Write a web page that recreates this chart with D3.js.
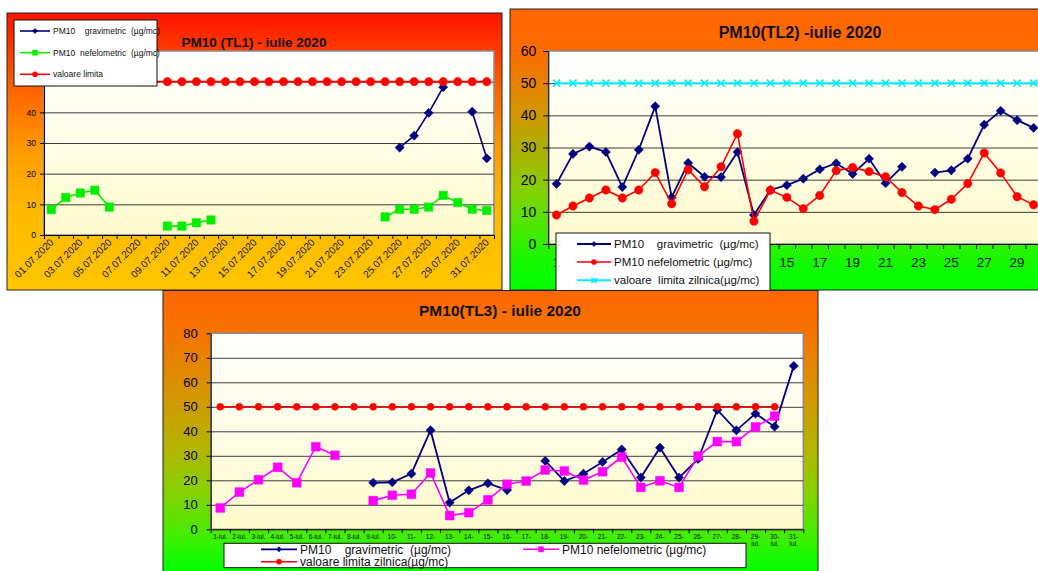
<!DOCTYPE html>
<html>
<head>
<meta charset="utf-8">
<script src="https://cdn.jsdelivr.net/npm/d3@7"></script>
<style>
body { margin: 0; background: #fff; overflow: hidden; font-family: Arial, "Liberation Sans", sans-serif; }
svg { display: block; }
</style>
</head>
<body>
<svg id="chart" width="1038" height="571"></svg>
<script>
var days = d3.range(1, 32);

// TL1 - iulie 2020
var tl1Grav = [null, null, null, null, null, null, null, null, null, null, null, null,
  null, null, null, null, null, null, null, null, null, null, null, null,
  28.5, 32.4, 39.8, 48.2, null, 40.2, 25.0];
var tl1Nef = [8.3, 12.2, 13.7, 14.6, 9.1, null, null, null, 2.9, 2.9, 4.0, 4.9,
  null, null, null, null, null, null, null, null, null, null, null,
  5.9, 8.4, 8.4, 9.1, 12.9, 10.6, 8.4, 8.0];
var tl1Limit = days.map(function() { return 50; });

// TL2 - iulie 2020
var tl2Grav = [18.7, 28.0, 30.3, 28.6, 17.7, 29.3, 42.8, 14.5, 25.2, 20.9, 20.8, 28.6, 9.0, 16.8,
  18.3, 20.3, 23.2, 25.1, 21.8, 26.5, 18.9, 24.0, null, 22.2, 22.9, 26.5, 37.1, 41.4, 38.5, 36.1, null];
var tl2Nef = [9.0, 11.8, 14.3, 16.8, 14.3, 16.8, 22.2, 12.5, 23.1, 17.8, 24.0, 34.3, 7.1, 16.7,
  14.5, 11.0, 15.1, 22.8, 23.8, 22.5, 20.9, 16.0, 11.8, 10.7, 13.9, 18.8, 28.3, 22.1, 14.7, 12.2, null];
var tl2Limit = days.map(function() { return 50; });

// TL3 - iulie 2020
var tl3Grav = [null, null, null, null, null, null, null, null, 19.0, 19.2, 22.7, 40.4, 10.9, 15.9,
  18.8, 16.0, null, 27.9, 19.7, 22.7, 27.5, 32.6, 21.1, 33.3, 21.1, 28.7, 48.7, 40.4, 47.2, 41.9, 66.7];
var tl3Nef = [8.7, 15.2, 20.2, 25.3, 19.0, 33.7, 30.2, null, 11.7, 13.9, 14.3, 23.0, 5.6, 6.8,
  12.0, 18.4, 19.7, 24.2, 23.8, 20.1, 23.5, 29.5, 17.1, 19.8, 17.1, 29.9, 35.8, 35.8, 41.8, 46.2, null];
var tl3Limit = days.map(function(d) { return d < 31 ? 50 : null; });

var tl1Ticks = [0, 10, 20, 30, 40, 50, 60];
var tl2Ticks = [0, 10, 20, 30, 40, 50, 60];
var tl3Ticks = [0, 10, 20, 30, 40, 50, 60, 70, 80];

var svg = d3.select("#chart");
var defs = svg.append("defs");

function gradient(id, stops) {
  var g = defs.append("linearGradient").attr("id", id)
    .attr("x1", 0).attr("y1", 0).attr("x2", 0).attr("y2", 1);
  stops.forEach(function(s) {
    g.append("stop").attr("offset", s[0]).attr("stop-color", s[1]);
  });
}

gradient("bg1", [[0, "#ff1400"], [0.28, "#ff6400"], [0.5, "#ff9c00"], [0.7, "#ffb800"], [1, "#ffc600"]]);
gradient("bg2", [[0, "#ff6600"], [0.14, "#ff6a00"], [0.36, "#d49400"], [0.52, "#a8b400"],
  [0.66, "#80d200"], [0.8, "#40ec00"], [0.9, "#14fa00"], [1, "#00ff00"]]);
gradient("bg3", [[0, "#ff6600"], [0.15, "#f57400"], [0.38, "#d49800"], [0.55, "#b4b400"],
  [0.7, "#88d000"], [0.85, "#48ec00"], [0.95, "#10fc00"], [1, "#00ff00"]]);
gradient("plotbg", [[0, "#ffffff"], [1, "#fffbcc"]]);

function markerPath(type, s) {
  if (type == "diamond") return "M0," + (-s) + "L" + s + ",0L0," + s + "L" + (-s) + ",0Z";
  if (type == "square") return "M" + (-s) + "," + (-s) + "h" + (2 * s) + "v" + (2 * s) + "h" + (-2 * s) + "Z";
  if (type == "circle") return d3.symbol().type(d3.symbolCircle).size(Math.PI * s * s)();
  return "M" + (-s) + "," + (-s) + "L" + s + "," + s + "M" + (-s) + "," + s + "L" + s + "," + (-s);
}

function drawMarker(g, type, s, color) {
  return g.append("path")
    .attr("d", markerPath(type, s))
    .attr("fill", type == "x" ? "none" : color)
    .attr("stroke", color)
    .attr("stroke-width", type == "x" ? 1.6 : 0.5);
}

function panel(cfg) {
  var g = svg.append("g");
  g.append("rect")
    .attr("x", cfg.box[0]).attr("y", cfg.box[1])
    .attr("width", cfg.box[2]).attr("height", cfg.box[3])
    .attr("fill", "url(#" + cfg.bg + ")")
    .attr("stroke", "#222").attr("stroke-width", 1);

  var p = cfg.plot;
  var x = d3.scaleBand().domain(days).range([p.l, p.r]).paddingInner(0).paddingOuter(0);
  var xb = d3.scaleLinear().domain([0, 31]).range([p.l, p.r]);
  var y = d3.scaleLinear().domain([0, cfg.yMax]).range([p.b, p.t]);

  g.append("rect")
    .attr("x", p.l).attr("y", p.t).attr("width", p.r - p.l).attr("height", p.b - p.t)
    .attr("fill", "url(#plotbg)").attr("stroke", "#8a8a8a").attr("stroke-width", 1.5);

  // gridlines
  g.append("g")
    .attr("transform", "translate(" + p.l + ",0)")
    .call(d3.axisLeft(y).tickValues(cfg.ticks.slice(1, -1)).tickSize(-(p.r - p.l)).tickFormat(""))
    .call(function(a) { a.select(".domain").remove(); })
    .selectAll("line").attr("stroke", "#3c3c3c").attr("stroke-width", 1);

  // y axis (labels hidden by the legend are left out)
  var ya = g.append("g")
    .attr("transform", "translate(" + p.l + ",0)")
    .call(d3.axisLeft(y).tickValues(cfg.ticks).tickSize(cfg.yTick).tickPadding(cfg.yPad).tickSizeOuter(0));
  ya.select(".domain").attr("stroke", "#000");
  ya.selectAll("line").attr("stroke", "#000");
  ya.selectAll("text").attr("font-size", cfg.yFont).attr("fill", "#000")
    .attr("font-family", "Arial, 'Liberation Sans', sans-serif")
    .filter(function(v) { return cfg.yHidden && v >= cfg.yHidden; }).remove();

  // x axis with ticks on category boundaries
  var xa = g.append("g")
    .attr("transform", "translate(0," + p.b + ")")
    .call(d3.axisBottom(xb).tickValues(d3.range(0, 32)).tickSize(cfg.xTick).tickSizeOuter(0).tickFormat(""));
  xa.select(".domain").attr("stroke", "#000");
  xa.selectAll("line").attr("stroke", "#000");

  cfg.labels(g, x, p);

  var half = x.bandwidth() / 2;
  cfg.series.forEach(function(s) {
    var pts = days.map(function(d, i) { return { day: d, v: s.values[i] }; });
    var line = d3.line()
      .defined(function(q) { return q.v != null; })
      .x(function(q) { return x(q.day) + half; })
      .y(function(q) { return y(q.v); });
    g.append("path").datum(pts)
      .attr("d", line).attr("fill", "none")
      .attr("stroke", s.color).attr("stroke-width", s.width);
    g.append("g").selectAll("path")
      .data(pts.filter(function(q) { return q.v != null; }))
      .enter().append("path")
      .attr("transform", function(q) { return "translate(" + (x(q.day) + half) + "," + y(q.v) + ")"; })
      .attr("d", markerPath(s.marker, s.size))
      .attr("fill", s.marker == "x" ? "none" : s.color)
      .attr("stroke", s.color)
      .attr("stroke-width", s.marker == "x" ? 1.6 : 0.5);
  });

  g.append("text")
    .attr("x", cfg.title[0]).attr("y", cfg.title[1])
    .attr("text-anchor", "middle").attr("font-weight", "bold")
    .attr("font-size", cfg.title[2]).attr("fill", "#111")
    .text(cfg.title[3]);

  // legend
  var L = cfg.legend;
  var lg = g.append("g");
  lg.append("rect")
    .attr("x", L.box[0]).attr("y", L.box[1]).attr("width", L.box[2]).attr("height", L.box[3])
    .attr("fill", "#fff").attr("stroke", "#111").attr("stroke-width", 1);
  L.items.forEach(function(it, i) {
    var s = cfg.series[i];
    lg.append("line")
      .attr("x1", it[0]).attr("x2", it[0] + L.len).attr("y1", it[1]).attr("y2", it[1])
      .attr("stroke", s.color).attr("stroke-width", s.width);
    drawMarker(lg, s.marker, L.msize, s.color)
      .attr("transform", "translate(" + (it[0] + L.len / 2) + "," + it[1] + ")");
    lg.append("text")
      .attr("x", it[0] + L.len + 3).attr("y", it[1]).attr("dy", "0.35em")
      .attr("font-size", L.font).attr("fill", "#111")
      .attr("xml:space", "preserve")
      .text(it[2]);
  });
}

var navy = "#000080";

// TL1
panel({
  box: [7, 13, 495, 277],
  bg: "bg1",
  plot: { l: 44, t: 51, r: 494, b: 235 },
  yMax: 60, ticks: tl1Ticks, yTick: 4, yPad: 4, yFont: 8.5, xTick: 4, yHidden: 50,
  title: [254, 47, 13.5, "PM10 (TL1) - iulie 2020"],
  labels: function(g, x, p) {
    g.append("g").selectAll("text")
      .data(days.filter(function(d) { return d % 2 == 1; }))
      .enter().append("text")
      .attr("transform", function(d) {
        return "translate(" + (x(d) + x.bandwidth() / 2 + 3) + "," + (p.b + 8) + ") rotate(-45)";
      })
      .attr("text-anchor", "end").attr("font-size", 10).attr("fill", "#111")
      .text(function(d) { return (d < 10 ? "0" + d : d) + ".07.2020"; });
  },
  series: [
    { values: tl1Grav, color: navy, width: 1.6, marker: "diamond", size: 4.6 },
    { values: tl1Nef, color: "#00ee00", width: 1.6, marker: "square", size: 4.2 },
    { values: tl1Limit, color: "#ff0000", width: 1.6, marker: "circle", size: 4.2 }
  ],
  legend: {
    box: [14, 20, 143, 66], len: 30, msize: 2.6, font: 8.5,
    items: [[20, 31, "PM10    gravimetric  (µg/mc)"], [20, 52.7, "PM10  nefelometric  (µg/mc)"], [20, 74.3, "valoare limita"]]
  }
});

// TL2
panel({
  box: [510, 9, 560, 281],
  bg: "bg2",
  plot: { l: 548.3, t: 51, r: 548.3 + 31 * 16.45, b: 244 },
  yMax: 60, ticks: tl2Ticks, yTick: 5, yPad: 7, yFont: 14, xTick: 5,
  title: [800, 38, 16, "PM10(TL2) -iulie 2020"],
  labels: function(g, x, p) {
    // odd days; those under the legend or past the page edge are not shown
    g.append("g").selectAll("text")
      .data(days.filter(function(d) {
        var cx = x(d) + x.bandwidth() / 2;
        return d % 2 == 1 && (cx < 560 || cx > 776) && cx < 1030;
      }))
      .enter().append("text")
      .attr("x", function(d) { return x(d) + x.bandwidth() / 2; })
      .attr("y", p.b + 23)
      .attr("text-anchor", "middle").attr("font-size", 13.5).attr("fill", "#111")
      .text(function(d) { return d; });
  },
  series: [
    { values: tl2Grav, color: navy, width: 1.8, marker: "diamond", size: 4.6 },
    { values: tl2Nef, color: "#ff0000", width: 1.6, marker: "circle", size: 4.2 },
    { values: tl2Limit, color: "#00eeff", width: 2, marker: "x", size: 3.6 }
  ],
  legend: {
    box: [556, 233, 214, 60], len: 34, msize: 2.6, font: 11.5,
    items: [[577, 244, "PM10    gravimetric  (µg/mc)"], [577, 262, "PM10 nefelometric (µg/mc)"], [577, 280.3, "valoare  limita zilnica(µg/mc)"]]
  }
});

// TL3
panel({
  box: [163, 290.5, 655, 285],
  bg: "bg3",
  plot: { l: 210.7, t: 333.3, r: 803.3, b: 529.3 },
  yMax: 80, ticks: tl3Ticks, yTick: 4, yPad: 9, yFont: 13, xTick: 4,
  title: [500, 316, 15.5, "PM10(TL3) - iulie 2020"],
  labels: function(g, x, p) {
    var t = g.append("g").selectAll("text")
      .data(days)
      .enter().append("text")
      .attr("x", function(d) { return x(d) + x.bandwidth() / 2; })
      .attr("y", p.b + 10)
      .attr("text-anchor", "middle").attr("font-size", 6.5).attr("fill", "#111");
    t.append("tspan").text(function(d) { return d < 10 ? d + "-iul." : d + "-"; });
    // second line only where the legend does not cover it
    t.filter(function(d) { return d >= 10 && x(d) > 740; }).append("tspan")
      .attr("x", function(d) { return x(d) + x.bandwidth() / 2; })
      .attr("dy", 7).text("iul.");
  },
  series: [
    { values: tl3Grav, color: navy, width: 1.8, marker: "diamond", size: 4.6 },
    { values: tl3Nef, color: "#ff00ff", width: 1.6, marker: "square", size: 4.4 },
    { values: tl3Limit, color: "#ff0000", width: 1.6, marker: "circle", size: 3.5 }
  ],
  legend: {
    box: [224, 543.3, 522, 24.4], len: 36, msize: 2.6, font: 12,
    items: [[261, 549.3, "PM10    gravimetric  (µg/mc)"], [523, 549.3, "PM10 nefelometric (µg/mc)"], [261, 561.7, "valoare limita zilnica(µg/mc)"]]
  }
});
</script>
</body>
</html>
